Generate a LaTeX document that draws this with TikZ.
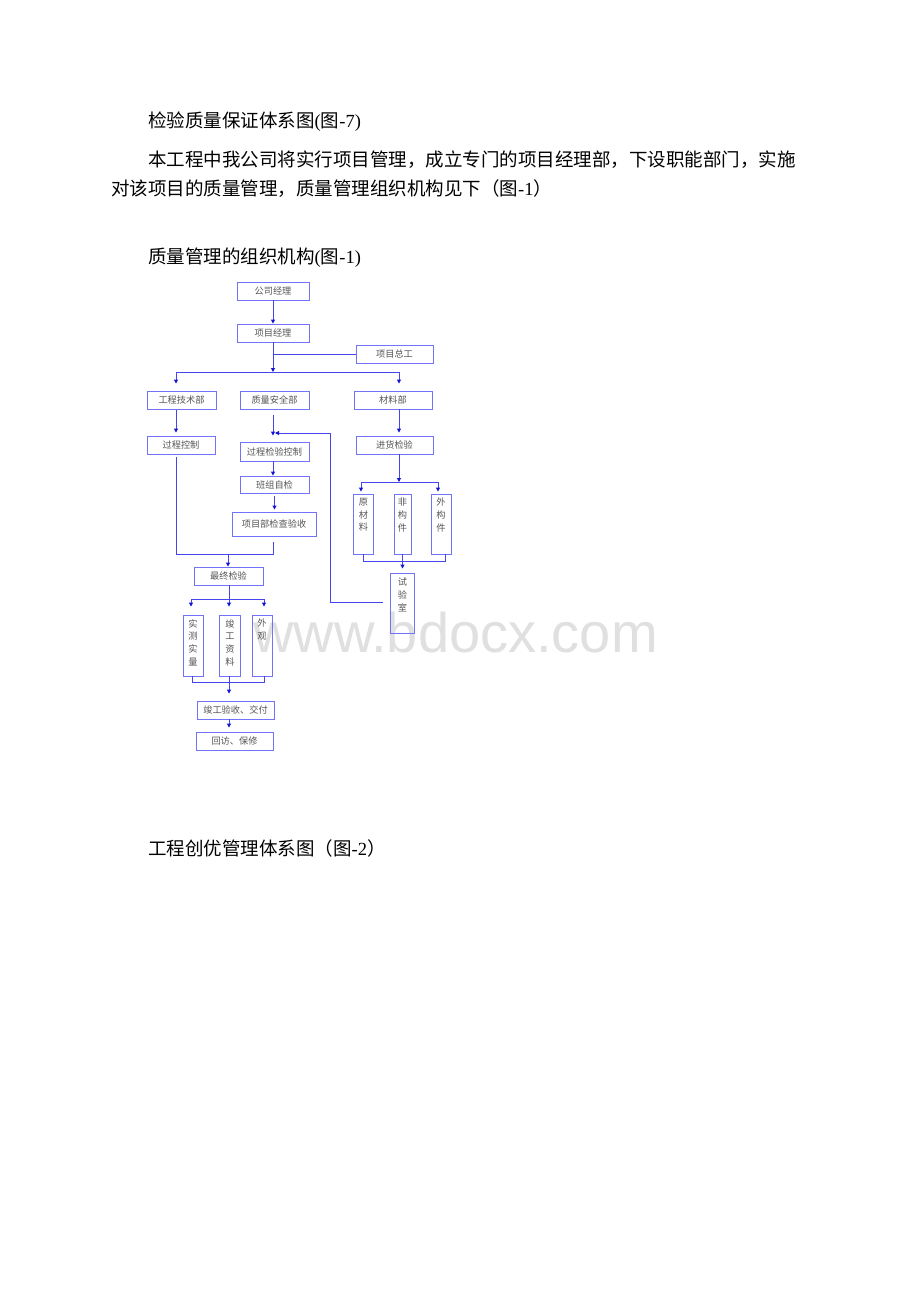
\documentclass[tikz,border=0pt]{standalone}
\usepackage{fontspec}
\setmainfont{Liberation Serif}
\setsansfont{Liberation Sans}
\newfontfamily\cjk{Noto Sans CJK SC}
\usetikzlibrary{arrows.meta}
\definecolor{boxc}{RGB}{115,115,250}
\definecolor{linec}{RGB}{70,70,240}
\definecolor{tipc}{RGB}{20,20,210}
\definecolor{txtc}{RGB}{85,85,85}
\definecolor{wmc}{RGB}{224,224,224}
\newcommand\zh[1]{{\cjk #1}}
\begin{document}
\begin{tikzpicture}[x=1pt,y=-1pt,
 box/.style={draw=boxc,line width=0.9pt,inner sep=0pt,text=txtc,font=\cjk\fontsize{9.2}{11}\selectfont},
 vbox/.style={draw=boxc,line width=0.9pt,inner sep=0pt},
 vtxt/.style={anchor=north,inner sep=0pt,text=txtc,font=\cjk\fontsize{9.2}{12.7}\selectfont,align=center},
 conn/.style={draw=linec,line width=0.9pt},
 arr/.style={conn,-{Triangle[length=4pt,width=4pt,color=tipc]}},
 body/.style={anchor=west,inner sep=0pt,text=black,font=\fontsize{18.5}{22}\selectfont}
]
\useasboundingbox[fill=white] (0,0) rectangle (920,1302);

% watermark
\node[anchor=base west,inner sep=0pt,text=wmc,font=\sffamily\fontsize{56}{60}\selectfont] (wm) at (253,652) {www.bdocx.com};

% body text
\node[body] (t1) at (148,122) {\zh{检验质量保证体系图}(\zh{图}-7)};
\node[body] (t2) at (148,160) {\zh{本工程中我公司将实行项目管理，成立专门的项目经理部，下设职能部门，实施}};
\node[body] (t3) at (111,189) {\zh{对该项目的质量管理，质量管理组织机构见下（图}-1\zh{）}};
\node[body] (t4) at (148,258) {\zh{质量管理的组织机构}(\zh{图}-1)};
\node[body] (t5) at (148,848) {\zh{工程创优管理体系图（图}-2\zh{）}};

% boxes
\node[box,minimum width=72pt,minimum height=18pt] (gsjl) at (273,291) {公司经理};
\node[box,minimum width=72pt,minimum height=18pt] (xmjl) at (273,333) {项目经理};
\node[box,minimum width=77pt,minimum height=18pt] (xmzg) at (394.5,354) {项目总工};
\node[box,minimum width=69pt,minimum height=18pt] (gcjsb) at (181.5,400) {工程技术部};
\node[box,minimum width=69pt,minimum height=18pt] (zlaqb) at (274.5,400) {质量安全部};
\node[box,minimum width=78pt,minimum height=18pt] (clb) at (393,400) {材料部};
\node[box,minimum width=68pt,minimum height=18pt] (gckz) at (181,445) {过程控制};
\node[box,minimum width=69pt,minimum height=19pt] (gcjykz) at (274.5,451.5) {过程检验控制};
\node[box,minimum width=69pt,minimum height=17pt] (bzzj) at (274.5,484.5) {班组自检};
\node[box,minimum width=84pt,minimum height=24pt] (xmbjc) at (274,524) {项目部检查验收};
\node[box,minimum width=69pt,minimum height=18pt] (zzjy) at (228.5,576) {最终检验};
\node[box,minimum width=77pt,minimum height=18pt] (jhjy) at (394.5,445) {进货检验};
\node[box,minimum width=77pt,minimum height=18pt] (jgys) at (235.5,710) {竣工验收、交付};
\node[box,minimum width=77pt,minimum height=18pt] (hf) at (234.5,741) {回访、保修};

% vertical boxes
\node[vbox,minimum width=20.5pt,minimum height=60pt] (ycl) at (363.5,524) {};
\node[vbox,minimum width=17pt,minimum height=60pt] (fgj) at (402.5,524) {};
\node[vbox,minimum width=20pt,minimum height=60pt] (wgj) at (441,524) {};
\node[vbox,minimum width=24.5pt,minimum height=60pt] (sys) at (402.5,603) {};
\node[vbox,minimum width=20pt,minimum height=61pt] (scsl) at (193,645.5) {};
\node[vbox,minimum width=21pt,minimum height=61pt] (jgzl) at (230,645.5) {};
\node[vbox,minimum width=20pt,minimum height=61pt] (wg) at (262,645.5) {};
\node[vtxt] (ycl-t) at ([yshift=-4.5pt]ycl.north) {原\\材\\料};
\node[vtxt] (fgj-t) at ([yshift=-4.5pt]fgj.north) {非\\构\\件};
\node[vtxt] (wgj-t) at ([yshift=-4.5pt]wgj.north) {外\\构\\件};
\node[vtxt] (sys-t) at ([yshift=-5.5pt]sys.north) {试\\验\\室};
\node[vtxt] (scsl-t) at ([yshift=-4.5pt]scsl.north) {实\\测\\实\\量};
\node[vtxt] (jgzl-t) at ([yshift=-4.5pt]jgzl.north) {竣\\工\\资\\料};
\node[vtxt] (wg-t) at ([yshift=-4.5pt]wg.north) {外\\观};

% coordinates
\coordinate (b1) at (273,372);
\coordinate (bl) at (176,372);
\coordinate (br) at (399,372);
\coordinate (c1) at (176,554);
\coordinate (c2) at (273,554);
\coordinate (c3) at (228,554);
\coordinate (dl) at (191,599);
\coordinate (dr) at (264,599);
\coordinate (e0) at (229,682);
\coordinate (el) at (192,682);
\coordinate (er) at (264,682);
\coordinate (m0) at (399,482);
\coordinate (ml) at (361,482);
\coordinate (mr) at (438,482);
\coordinate (nl) at (363,561);
\coordinate (nr) at (445,561);
\coordinate (fb) at (383,602);
\coordinate (fb1) at (330,602);
\coordinate (fb2) at (330,433);
\coordinate (fb3) at (275,433);

% connectors
\draw[arr] (gsjl) -- (xmjl);
\draw[arr] (xmjl.south) -- (b1);
\draw[conn] (xmzg.west) -- (xmzg.west -| b1);
\draw[conn] (bl) -- (br);
\draw[arr,shorten >=7pt] (bl) -- (bl |- gcjsb.north);
\draw[arr,shorten >=7pt] (br) -- (br |- clb.north);
\draw[arr,shorten <=1pt,shorten >=3pt] (bl |- gcjsb.south) -- (bl |- gckz.north);
\draw[arr,shorten <=6pt,shorten >=6pt] (zlaqb.south -| b1) -- (gcjykz.north -| b1);
\draw[arr] (fb) -- (fb1) -- (fb2) -- (fb3);
\draw[arr] (gcjykz.south -| b1) -- (bzzj.north -| b1);
\draw[arr,shorten <=3pt,shorten >=2pt] (bzzj.south) -- (bzzj.south |- xmbjc.north);
\draw[conn,shorten <=2.5pt,shorten >=5.5pt] (gckz.south -| c1) -- (c1) -- (c2) -- (xmbjc.south -| c2);
\draw[arr] (c3) -- (c3 |- zzjy.north);
\draw[arr,shorten >=8pt] (zzjy.south -| e0) -- (e0 |- scsl.north);
\draw[conn] (dl) -- (dr);
\draw[arr,shorten >=8pt] (dl) -- (dl |- scsl.north);
\draw[arr,shorten >=8pt] (dr) -- (dr |- wg.north);
\draw[conn] (scsl.south -| el) -- (el) -- (er) -- (wg.south -| er);
\draw[arr,shorten >=7pt] (jgzl.south -| e0) -- (e0 |- jgys.north);
\draw[arr,shorten >=4pt] (jgys.south -| e0) -- (e0 |- hf.north);
\draw[arr,shorten >=3pt] (clb.south -| m0) -- (m0 |- jhjy.north);
\draw[arr] (jhjy.south -| m0) -- (m0);
\draw[conn] (ml) -- (mr);
\draw[arr,shorten >=2pt] (ml) -- (ml |- ycl.north);
\draw[arr,shorten >=2pt] (mr) -- (mr |- wgj.north);
\draw[conn] (ycl.south -| nl) -- (nl) -- (nr) -- (wgj.south -| nr);
\draw[arr,shorten >=4pt] (fgj.south) -- (fgj.south |- sys.north);
\end{tikzpicture}
\end{document}
